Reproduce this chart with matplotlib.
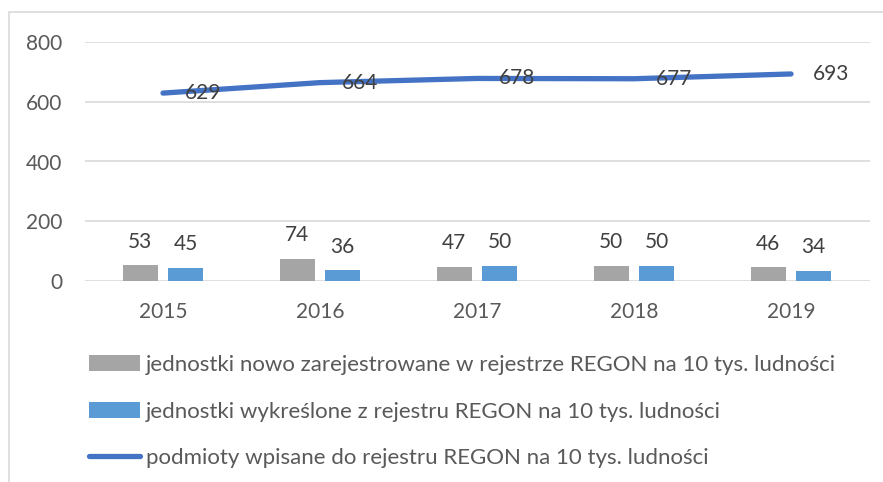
import matplotlib
matplotlib.use('Agg')
import matplotlib.pyplot as plt
import numpy as np
from matplotlib.patches import Rectangle

years = ['2015', '2016', '2017', '2018', '2019']
nowe = [53, 74, 47, 50, 46]
wykreslone = [45, 36, 50, 50, 34]
podmioty = [629, 664, 678, 677, 693]

labels = ['jednostki nowo zarejestrowane w rejestrze REGON na 10 tys. ludności',
          'jednostki wykreślone z rejestru REGON na 10 tys. ludności',
          'podmioty wpisane do rejestru REGON na 10 tys. ludności']

plt.rcParams['font.family'] = ['Lato', 'DejaVu Sans']
W, H = 883, 482
fig = plt.figure(figsize=(W / 100, H / 100), dpi=100)
ax = fig.add_axes([84.5 / W, (H - 281) / H, 785 / W, 239 / H])

# ramka wykresu (ucieta z prawej i od dolu)
fig.patches.append(Rectangle((9 / W, -0.1), 1.2, (H - 12) / H + 0.1, transform=fig.transFigure,
                             fill=False, edgecolor='#d9d9d9', linewidth=1.2))

x = np.arange(len(years))
bw = 0.223
off = 0.144
b1 = ax.bar(x - off, nowe, bw, color='#a5a5a5', label=labels[0], zorder=2)
b2 = ax.bar(x + off, wykreslone, bw, color='#5b9bd5', label=labels[1], zorder=2)
ln, = ax.plot(x, podmioty, color='#4472c4', linewidth=3.8, solid_capstyle='round',
              label=labels[2], zorder=3)

for xi, v in zip(x, nowe):
    ax.annotate(str(v), (xi - off, v), xytext=(0, 17), textcoords='offset points',
                ha='center', va='center', fontsize=15, color='#404040')
for xi, v in zip(x, wykreslone):
    ax.annotate(str(v), (xi + off, v), xytext=(0, 17), textcoords='offset points',
                ha='center', va='center', fontsize=15, color='#404040')
for xi, v in zip(x, podmioty):
    ax.annotate(str(v), (xi, v), xytext=(29, 0), textcoords='offset points',
                ha='center', va='center', fontsize=15, color='#404040')

ax.set_xlim(-0.5, 4.5)
ax.set_ylim(0, 800)
ax.set_yticks([0, 200, 400, 600, 800])
ax.set_xticks(x)
ax.set_xticklabels(years)
ax.tick_params(axis='both', length=0, labelsize=15, labelcolor='#595959')
ax.tick_params(axis='y', pad=16)
ax.tick_params(axis='x', pad=15)
ax.grid(axis='y', color='#d9d9d9', linewidth=1.2, zorder=0)
ax.set_axisbelow(True)
for s in ax.spines.values():
    s.set_visible(False)

leg = fig.legend(handles=[b1, b2, ln], labels=labels, loc='upper left',
                 bbox_to_anchor=(80 / W, (H - 346) / H), frameon=False, fontsize=16,
                 handlelength=2.3, handletextpad=0.28, labelspacing=1.2,
                 borderaxespad=0, labelcolor='#595959')

fig.savefig('out.png', dpi=100)
